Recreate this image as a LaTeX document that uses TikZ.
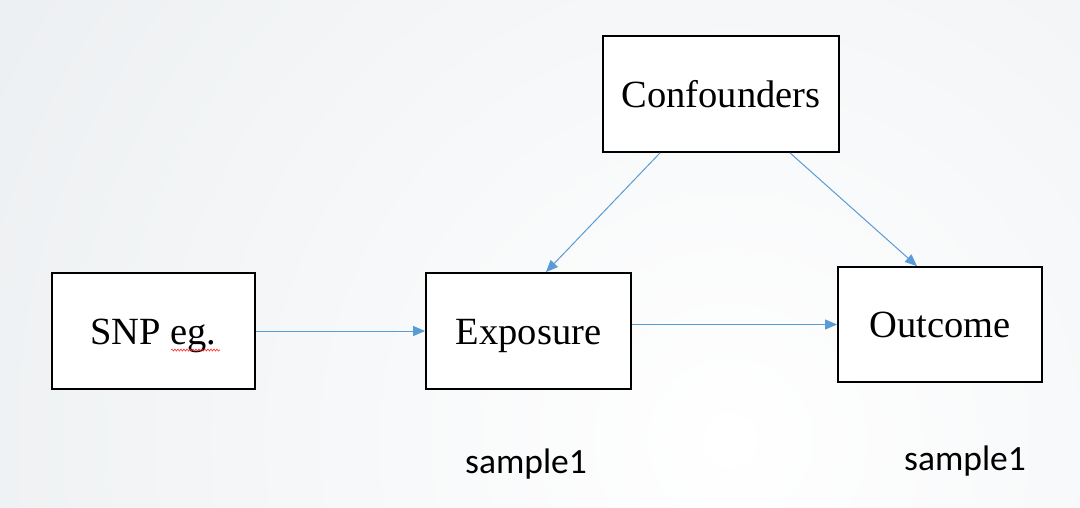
\documentclass[tikz,border=0pt]{standalone}
\usepackage{fontspec}
\setmainfont{Liberation Serif}
\newfontfamily\labelfont{Carlito}
\usetikzlibrary{arrows.meta,decorations.pathmorphing}
\definecolor{bgedge}{HTML}{E6EAED}
\definecolor{arrowblue}{HTML}{5B9BD5}
\tikzset{
  box/.style={draw=black, line width=1.8pt, fill=white, minimum width=#1, inner sep=0pt, text height=30pt, text depth=4pt, font=\fontsize{38.5}{40}\selectfont},
  flow/.style={draw=arrowblue, line width=1pt, -{Triangle[length=12pt,width=10pt]}},
  samplelabel/.style={font=\labelfont\fontsize{35.5}{37}\selectfont, inner sep=0pt}
}
\begin{document}
\begin{tikzpicture}[x=1pt,y=-1pt]
\useasboundingbox (0,0) rectangle (1080,507);
\fill[bgedge] (0,0) rectangle (1080,507);
\begin{scope}
\clip (0,0) rectangle (1080,507);
\shade[inner color=white, outer color=bgedge] (730,440) circle (1150);
\end{scope}
\node[box=203pt, minimum height=116pt] (snp) at (153.5,331) {SNP eg.};
\node[box=205pt, minimum height=116pt] (exp) at (528.5,331) {Exposure};
\node[box=204pt, minimum height=115pt] (out) at (940,324.5) {Outcome};
\node[box=236pt, minimum height=116pt] (conf) at (721,94) {Confounders};
\coordinate (sq1) at (171,350);
\coordinate (sq2) at (220,350);
\draw[red!85!white, line width=0.6pt, decorate, decoration={snake, amplitude=1pt, segment length=3pt}] (sq1) -- (sq2);
\draw[flow] (snp.east) -- (exp.west);
\draw[flow] (exp.east |- out.west) -- (out.west);
\draw[flow] ([xshift=-61pt]conf.south) -- ([xshift=17.5pt]exp.north);
\draw[flow] ([xshift=69pt]conf.south) -- ([xshift=-23pt]out.north);
\node[samplelabel] (s1) at (526,464) {sample1};
\node[samplelabel] (s2) at (965,461) {sample1};
\end{tikzpicture}
\end{document}
